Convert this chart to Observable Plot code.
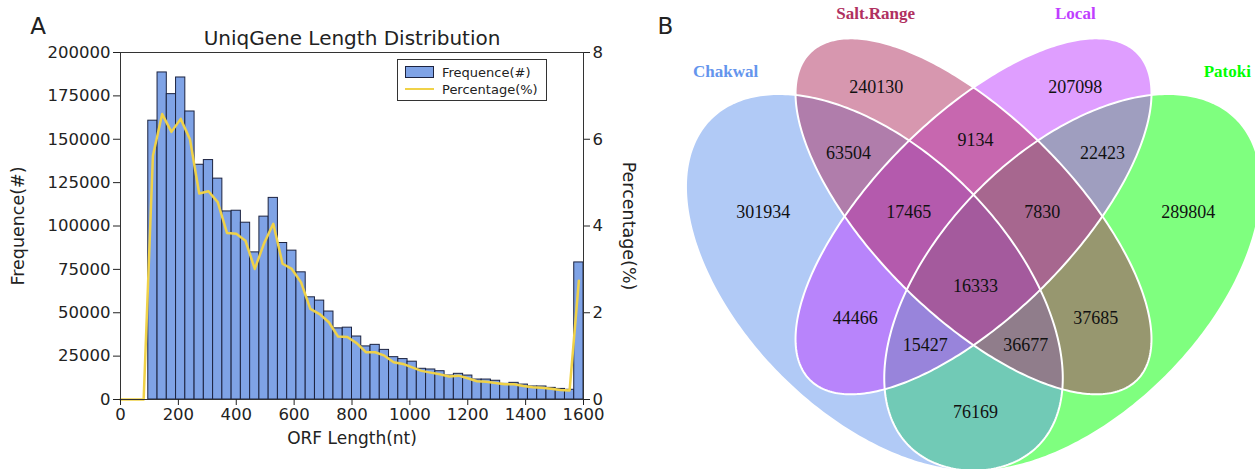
<!DOCTYPE html>
<html><head><meta charset="utf-8">
<script src="https://cdn.jsdelivr.net/npm/d3@7"></script>
<script src="https://cdn.jsdelivr.net/npm/@observablehq/plot@0.6"></script>
<style>
body{margin:0;background:#fff;}
#wrap{position:relative;width:1255px;height:469px;overflow:hidden;font-family:"DejaVu Sans",sans-serif;color:#222;}
#left{position:absolute;left:0;top:0;}
#right{position:absolute;left:640px;top:0;}
#legend{position:absolute;left:397px;top:59px;width:148px;height:40px;border:1px solid #333;background:#fff;font-size:13px;}
#legend .row{position:absolute;left:7px;height:16px;display:flex;align-items:center;}
#legend .sw{width:29px;height:12px;background:#7fa3e6;border:1px solid #1c2340;box-sizing:border-box;margin-right:8px;}
#legend .ln{width:29px;height:2px;background:#f0d248;margin-right:8px;}
</style></head><body>
<div id="wrap"><div id="left"></div><div id="right"></div>
<div id="legend"><div class="row" style="top:4px"><div class="sw"></div><span>Frequence(#)</span></div>
<div class="row" style="top:21px"><div class="ln"></div><span>Percentage(%)</span></div></div>
</div>
<script>
// ---------- Panel A data ----------
const frequence = [160700, 188500, 176000, 185600, 166000, 135300, 138000, 127300, 108400, 108800,
  101900, 84800, 105400, 116200, 90200, 85800, 73300, 58900, 57000, 50700,
  41000, 41400, 36300, 30600, 31500, 28600, 24400, 23300, 21800, 17700,
  17300, 16300, 13800, 14800, 13800, 11500, 11500, 10800, 9000, 9600,
  8600, 7500, 7500, 6700, 6100, 5600, 79000];
const percentage = [5.62, 6.58, 6.17, 6.47, 6.0, 4.75, 4.80, 4.55, 3.84, 3.82,
  3.66, 3.01, 3.6, 4.05, 3.13, 3.01, 2.70, 2.09, 1.97, 1.78,
  1.45, 1.44, 1.30, 1.09, 1.09, 1.01, 0.86, 0.82, 0.74, 0.66,
  0.62, 0.58, 0.53, 0.55, 0.49, 0.42, 0.41, 0.38, 0.35, 0.35,
  0.31, 0.28, 0.27, 0.25, 0.22, 0.21, 2.74];
const leadingZeroLengths = [0, 80];
const binStart = 96, binWidth = 32;
const xTicks = [0, 200, 400, 600, 800, 1000, 1200, 1400, 1600];
const yTicks = [0, 25000, 50000, 75000, 100000, 125000, 150000, 175000, 200000];
const pctTicks = [0, 2, 4, 6, 8];
const titleA = "UniqGene Length Distribution";

// ---------- Panel B data ----------
const setNames = ["Chakwal", "Salt.Range", "Local", "Patoki"];
const setColors = ["#6495ed", "#b03060", "#bf3eff", "#00ff00"];
const regionNames = ["Chakwal", "Salt.Range", "Local", "Patoki", "Chakwal&Salt.Range", "Salt.Range&Local",
  "Local&Patoki", "Chakwal&Salt.Range&Local", "Salt.Range&Local&Patoki", "All", "Chakwal&Local",
  "Salt.Range&Patoki", "Chakwal&Local&Patoki", "Chakwal&Salt.Range&Patoki", "Chakwal&Patoki"];
const regionCounts = [301934, 240130, 207098, 289804, 63504, 9134, 22423, 17465, 7830, 16333, 44466, 37685, 15427, 36677, 76169];

// ---------- Panel B layout (unit square, y up) ----------
const regionPos = [[0.182,0.576],[0.353,0.765],[0.654,0.766],[0.825,0.576],[0.311,0.665],[0.503,0.685],
  [0.695,0.665],[0.402,0.576],[0.604,0.576],[0.503,0.464],[0.321,0.416],[0.685,0.416],[0.427,0.375],[0.579,0.375],[0.503,0.273]];
const setLabelPos = [[0.125,0.789],[0.352,0.877],[0.654,0.877],[0.884,0.789]];
const ellipseGeom = { // name: [cx, cy, a, b, angle]
  "Chakwal": [0.35, 0.47, 0.35, 0.20, -45],
  "Salt.Range": [0.50, 0.57, 0.35, 0.15, -45],
  "Local": [0.50, 0.57, 0.35, 0.15, 45],
  "Patoki": [0.65, 0.47, 0.35, 0.20, 45]
};
const drawOrder = ["Patoki", "Chakwal", "Local", "Salt.Range"];

// ---------- Panel A ----------
const bins = frequence.map((f, i) => ({x1: binStart + i * binWidth, x2: binStart + (i + 1) * binWidth, f}));
const lineData = [...leadingZeroLengths.map(x => ({x, p: 0})),
  ...percentage.map((p, i) => ({x: binStart + (i + 0.5) * binWidth, p}))];
const k = yTicks[yTicks.length - 1] / pctTicks[pctTicks.length - 1];
const txt = {textAnchor: "middle", lineAnchor: "middle", text: d => d};

const plotA = Plot.plot({
  width: 640, height: 469,
  marginLeft: 120, marginRight: 57, marginTop: 52, marginBottom: 70,
  style: {fontFamily: "DejaVu Sans", fontSize: "16.5px", color: "#222", background: "transparent", overflow: "visible"},
  x: {domain: [0, 1600]},
  y: {domain: [0, 200000]},
  marks: [
    Plot.rect(bins, {x1: "x1", x2: "x2", y1: () => 0, y2: "f", fill: "#7fa3e6", stroke: "#1c2340", strokeWidth: 1}),
    Plot.line(lineData, {x: "x", y: d => d.p * k, stroke: "#f0d248", strokeWidth: 2.5}),
    Plot.frame({stroke: "#333"}),
    Plot.axisY({ticks: yTicks, tickFormat: d3.format("d"), tickSize: 7, tickPadding: 3, label: null}),
    Plot.axisY({anchor: "right", ticks: pctTicks.map(p => p * k), tickFormat: d => d3.format("d")(d / k), tickSize: 6, tickPadding: 3, label: null}),
    Plot.axisX({ticks: xTicks, tickFormat: d3.format("d"), tickSize: 6, tickPadding: 3, label: null}),
    Plot.text([titleA], {...txt, frameAnchor: "top", dy: -14, fontSize: 20}),
    Plot.text(["Frequence(#)"], {...txt, frameAnchor: "left", dx: -102, rotate: -90, fontSize: 17.5}),
    Plot.text(["Percentage(%)"], {...txt, frameAnchor: "right", dx: 45, rotate: 90, fontSize: 17.5}),
    Plot.text(["ORF Length(nt)"], {...txt, frameAnchor: "bottom", dy: 39, fontSize: 17}),
    Plot.text(["A"], {...txt, frameAnchor: "top-left", dx: -82.5, dy: -25.5, fontSize: 23})
  ]
});
document.getElementById("left").append(plotA);

// ---------- Panel B ----------
function ellipsePts(name) {
  const [cx, cy, a, b, ang] = ellipseGeom[name];
  const th = ang * Math.PI / 180;
  return d3.range(0, 360, 1).map(deg => {
    const t = deg * Math.PI / 180;
    return {name, u: cx + a * Math.cos(t) * Math.cos(th) - b * Math.sin(t) * Math.sin(th),
                  v: cy + a * Math.cos(t) * Math.sin(th) + b * Math.sin(t) * Math.cos(th)};
  });
}
const regions = regionNames.map((r, i) => ({r, count: regionCounts[i], u: regionPos[i][0], v: regionPos[i][1]}));
const setLabels = setNames.map((s, i) => ({s, color: setColors[i], u: setLabelPos[i][0], v: setLabelPos[i][1]}));
const colorOf = Object.fromEntries(setNames.map((s, i) => [s, setColors[i]]));

const plotB = Plot.plot({
  width: 615, height: 469,
  margin: 0,
  style: {background: "transparent"},
  x: {domain: [-0.0038, 0.9266], axis: null},
  y: {domain: [0.187, 0.8965], axis: null},
  marks: [
    ...drawOrder.map(n => Plot.line(ellipsePts(n), {x: "u", y: "v", fill: colorOf[n], fillOpacity: 0.5, stroke: "none", curve: "linear-closed"})),
    Plot.line(drawOrder.flatMap(ellipsePts), {x: "u", y: "v", z: "name", stroke: "white", strokeWidth: 2, curve: "linear-closed"}),
    Plot.text(regions, {x: "u", y: "v", text: d => String(d.count), fontFamily: "Liberation Serif", fontSize: 18, fill: "#111"}),
    Plot.text(setLabels, {x: "u", y: "v", text: "s", fill: d => d.color, fontFamily: "Liberation Serif", fontWeight: "bold", fontSize: 17}),
    Plot.text(["B"], {...txt, frameAnchor: "top-left", dx: 25, dy: 26.5, fontSize: 23, fontFamily: "DejaVu Sans"})
  ]
});
document.getElementById("right").append(plotB);
</script>
</body></html>
